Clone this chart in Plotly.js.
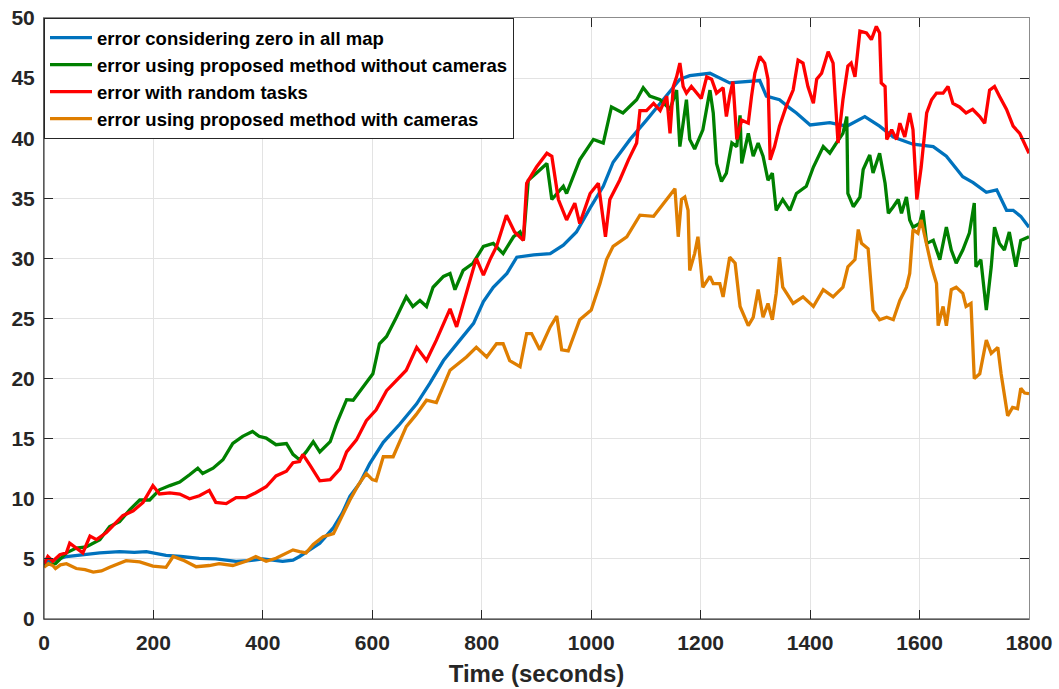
<!DOCTYPE html>
<html>
<head>
<meta charset="utf-8">
<script src="https://cdn.plot.ly/plotly-3.0.1.min.js"></script>
<style>
  html, body { margin: 0; padding: 0; background: #ffffff; }
  #chart { width: 1059px; height: 689px; }
</style>
</head>
<body>
<div id="chart"></div>
<script>
// Mapping error over a 30-minute run, four strategies.

const seriesNames = [
  'error considering zero in all map',
  'error using proposed method without cameras',
  'error with random tasks',
  'error using proposed method with cameras'
];

// error considering zero in all map
const zeroMapT = [0,10,20,41,70,102,138,165,187,210,223,250,284,314,351,375,400,436,455,467,485,504,529,545,559,577,595,620,650,681,705,730,760,785,803,821,846,864,895,925,949,973,998,1022,1040,1071,1101,1131,1162,1180,1217,1253,1290,1308,1320,1344,1363,1375,1400,1436,1467,1500,1527,1552,1588,1625,1649,1679,1698,1722,1741,1759,1771,1785,1800];
const zeroMapErr = [4.7,4.8,4.9,5.2,5.35,5.5,5.6,5.55,5.6,5.4,5.3,5.2,5.05,5.0,4.8,4.85,5.0,4.8,4.9,5.2,5.7,6.3,7.6,8.8,10.2,11.3,12.9,14.7,16.2,17.9,19.6,21.5,23.2,24.6,26.4,27.6,28.75,30.1,30.3,30.4,31.1,32.2,34.2,36.0,38.0,39.9,41.5,43.2,44.9,45.2,45.4,44.6,44.7,44.8,43.5,43.2,42.5,42.1,41.1,41.3,41.0,41.8,41.0,40.1,39.5,39.3,38.5,36.8,36.3,35.5,35.7,34.0,34.0,33.5,32.6];

// error using proposed method without cameras
const noCamT = [0,21,41,59,77,102,120,138,157,175,193,211,230,248,266,281,290,309,327,345,363,381,393,406,424,443,455,467,479,492,504,523,535,553,565,589,601,613,626,644,662,674,687,699,711,730,742,751,766,784,803,821,839,858,870,876,885,900,919,928,949,955,979,1004,1022,1037,1058,1083,1095,1107,1126,1144,1156,1162,1174,1180,1189,1204,1217,1223,1229,1238,1247,1257,1266,1272,1275,1287,1296,1305,1314,1323,1331,1338,1350,1363,1375,1393,1406,1424,1436,1448,1460,1467,1469,1479,1491,1497,1509,1515,1527,1537,1543,1552,1561,1567,1576,1582,1588,1600,1606,1613,1625,1637,1649,1658,1667,1679,1691,1700,1703,1712,1722,1731,1737,1746,1755,1764,1776,1785,1800];
const noCamErr = [4.5,4.6,5.5,5.9,6.0,6.6,7.7,8.1,9.1,9.9,9.9,10.75,11.1,11.4,12.0,12.55,12.1,12.55,13.25,14.6,15.2,15.6,15.2,15.05,14.5,14.6,13.7,13.25,13.9,14.75,13.9,14.75,16.3,18.25,18.2,19.6,20.4,22.9,23.5,25.1,26.8,26.0,26.5,26.0,27.6,28.5,28.75,27.4,29.0,29.6,31.0,31.25,30.4,31.8,32.2,31.5,36.5,37.1,37.9,34.9,36.0,35.4,38.2,39.9,39.6,42.6,42.1,43.2,44.2,43.5,43.2,42.4,44.0,39.3,43.2,39.9,39.1,40.7,44.0,42.1,37.9,36.4,37.1,39.6,39.3,41.9,37.9,40.4,38.5,39.6,38.5,36.5,37.1,34.0,34.9,34.0,35.4,36.0,37.6,39.3,38.75,39.6,40.4,41.8,35.4,34.3,35.1,37.4,38.6,37.1,38.75,36.25,33.75,34.3,34.9,33.75,35.1,33.2,32.6,32.9,34.0,31.25,31.5,29.9,32.6,30.7,29.6,30.7,32.1,34.6,29.3,29.9,25.7,29.3,32.6,31.25,30.7,32.2,29.3,31.5,31.8];

// error with random tasks
const randomT = [0,7,16,29,41,47,59,71,84,96,114,132,144,163,181,199,211,230,248,266,284,302,314,333,351,369,387,406,424,443,455,467,473,486,504,523,541,553,571,589,607,626,644,662,681,699,717,742,754,772,790,803,815,827,845,860,876,882,900,919,928,940,955,970,979,998,1013,1026,1034,1052,1068,1083,1089,1101,1114,1126,1138,1144,1150,1156,1162,1168,1174,1183,1192,1201,1211,1220,1229,1241,1247,1253,1259,1266,1275,1287,1293,1299,1308,1317,1323,1327,1335,1344,1356,1369,1378,1387,1396,1406,1412,1421,1433,1442,1451,1460,1469,1475,1482,1491,1503,1512,1521,1527,1530,1537,1540,1549,1558,1564,1573,1582,1588,1595,1603,1613,1622,1631,1643,1652,1661,1673,1685,1697,1710,1719,1728,1737,1746,1759,1771,1783,1800];
const randomErr = [4.6,5.2,4.8,5.35,5.5,6.3,5.9,5.5,6.9,6.6,7.2,8.0,8.6,9.0,9.7,11.1,10.4,10.5,10.4,10.0,10.25,10.7,9.7,9.6,10.1,10.1,10.5,11.0,11.9,12.3,13.0,13.1,13.7,12.8,11.5,11.6,12.5,13.9,14.9,16.5,17.4,19.0,19.9,20.7,22.6,21.5,23.2,25.8,24.3,27.1,30.0,28.6,29.9,31.0,33.6,32.2,31.5,36.25,37.6,38.75,38.5,34.9,33.2,34.6,32.9,35.4,36.25,31.8,34.9,36.5,38.2,39.6,42.3,42.3,42.9,42.3,43.5,40.4,44.3,45.1,46.25,44.3,43.75,44.3,43.75,43.3,45.1,44.9,43.75,44.2,41.8,43.5,44.7,39.9,41.5,41.25,43.5,45.4,46.8,46.25,44.9,38.2,39.3,41.0,42.6,44.0,46.5,46.25,44.3,42.9,44.9,45.4,47.2,46.25,39.6,43.2,46.0,46.25,45.1,48.9,48.75,48.2,49.3,48.75,44.6,44.3,39.9,40.7,39.9,41.25,40.1,42.1,40.7,34.9,37.6,42.1,43.2,43.75,43.75,44.3,42.9,42.6,42.1,42.4,41.8,41.25,44.0,44.3,43.5,42.4,41.0,40.4,38.75];

// error using proposed method with cameras
const withCamT = [0,8,16,21,30,41,59,75,90,105,120,135,150,175,199,223,236,254,278,302,320,345,369,387,406,424,443,455,467,479,492,510,529,541,559,575,589,600,607,620,638,662,680,699,717,742,772,790,809,827,839,851,870,882,891,906,925,937,946,958,979,1000,1016,1028,1040,1065,1089,1114,1138,1153,1159,1165,1171,1177,1180,1189,1195,1204,1217,1223,1235,1241,1253,1263,1272,1287,1296,1305,1314,1323,1331,1338,1344,1350,1369,1387,1406,1424,1442,1460,1469,1482,1488,1494,1506,1515,1527,1540,1552,1564,1576,1582,1588,1597,1603,1613,1622,1631,1634,1643,1649,1658,1667,1679,1685,1694,1697,1700,1710,1722,1731,1743,1749,1761,1770,1779,1785,1792,1800];
const withCamErr = [4.3,4.6,4.45,4.2,4.5,4.6,4.2,4.1,3.9,4.0,4.3,4.6,4.85,4.75,4.4,4.3,5.2,4.9,4.35,4.45,4.6,4.45,4.8,5.2,4.8,5.05,5.5,5.75,5.6,5.5,6.2,6.85,7.1,8.2,9.9,11.2,12.1,11.6,11.5,13.5,13.5,16.0,17.0,18.2,18.0,20.7,21.8,22.6,21.8,22.9,22.9,21.5,21.0,23.75,23.75,22.4,24.3,25.2,22.4,22.3,24.9,25.7,27.9,29.9,31.0,31.8,33.6,33.5,34.9,35.8,31.8,34.9,35.1,34.0,29.0,30.4,31.8,27.6,28.5,27.9,27.9,26.8,30.1,29.6,26.0,24.4,25.1,27.4,25.1,26.25,24.9,27.1,30.1,27.6,26.25,26.8,26.0,27.4,26.8,27.6,29.3,29.9,32.4,31.25,30.8,25.7,24.9,25.1,24.9,26.5,27.6,28.75,32.4,32.1,33.2,31.0,29.3,27.9,24.4,26.0,24.4,27.4,27.6,27.1,26.0,26.25,23.2,20.0,20.4,23.2,22.1,22.6,20.4,16.9,17.6,17.5,19.2,18.8,18.75];

const seriesT = [zeroMapT, noCamT, randomT, withCamT];
const seriesErr = [zeroMapErr, noCamErr, randomErr, withCamErr];
const seriesColors = ['#0072BD', '#008000', '#FF0000', '#DF7E00'];

const xTicks = [0, 200, 400, 600, 800, 1000, 1200, 1400, 1600, 1800];
const yTicks = [0, 5, 10, 15, 20, 25, 30, 35, 40, 45, 50];

const FONT = 'Liberation Sans, Arial, Helvetica, sans-serif';
const INK = '#262626';

const traces = seriesNames.map((name, i) => ({
  type: 'scatter',
  mode: 'lines',
  name: name,
  x: seriesT[i],
  y: seriesErr[i],
  line: { color: seriesColors[i], width: 3.3 },
  hoverinfo: 'x+y+name'
}));

const axisCommon = {
  showgrid: true,
  gridcolor: '#E3E3E3',
  gridwidth: 1,
  zeroline: false,
  showline: true,
  linecolor: '#8C8C8C',
  linewidth: 1,
  mirror: 'ticks',
  ticks: 'inside',
  ticklen: 9,
  tickwidth: 1,
  tickcolor: INK,
  tickfont: { family: FONT, size: 21, color: INK, weight: 'bold' }
};

const layout = {
  width: 1059,
  height: 689,
  margin: { l: 44, r: 30, t: 18, b: 70 },
  paper_bgcolor: '#ffffff',
  plot_bgcolor: '#ffffff',
  showlegend: true,
  xaxis: Object.assign({}, axisCommon, {
    range: [0, 1800],
    tickmode: 'array',
    tickvals: xTicks,
    ticktext: xTicks.map(String),
    ticklabelstandoff: 5,
    title: { text: 'Time (seconds)', font: { family: FONT, size: 24, color: INK, weight: 'bold' }, standoff: 11 }
  }),
  yaxis: Object.assign({}, axisCommon, {
    range: [0, 50],
    tickmode: 'array',
    tickvals: yTicks,
    ticktext: yTicks.map(String),
    ticklabelstandoff: 4
  }),
  legend: {
    x: 0, y: 1, xanchor: 'left', yanchor: 'top',
    xref: 'paper', yref: 'paper',
    bgcolor: '#ffffff',
    bordercolor: INK,
    borderwidth: 1,
    itemwidth: 42,
    font: { family: FONT, size: 18.5, color: '#000000', weight: 'bold' },
    traceorder: 'normal'
  },
  shapes: [
    { type: 'line', xref: 'paper', yref: 'paper', x0: 0, x1: 0, y0: 0, y1: 1, line: { color: INK, width: 1 }, layer: 'above' },
    { type: 'line', xref: 'paper', yref: 'paper', x0: 0, x1: 1, y0: 0, y1: 0, line: { color: INK, width: 1 }, layer: 'above' }
  ]
};

Plotly.newPlot('chart', traces, layout, { displayModeBar: false, staticPlot: true });
</script>
</body>
</html>
